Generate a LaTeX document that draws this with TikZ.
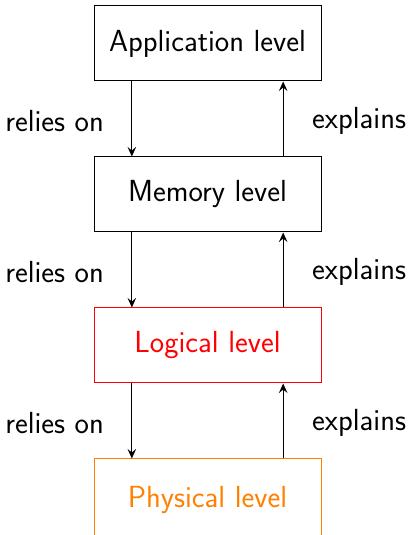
\documentclass[tikz,border=0pt]{standalone}
\usepackage{fontspec}
\usetikzlibrary{arrows.meta}
\begin{document}
\begin{tikzpicture}[x=1pt,y=1pt,
  font=\sffamily\fontsize{30.5}{36}\selectfont,
  level/.style={draw, line width=1pt, minimum width=227pt, minimum height=75pt, inner sep=0pt},
  link/.style={line width=1pt, -{Stealth[length=9.5pt,width=8.5pt,inset=3.5pt]}},
  lbl/.style={inner sep=0pt}]
\useasboundingbox (0,0) rectangle (409,535);
% the four levels, top to bottom
\node[level] (app) at (207.5,491.5) {Application level};
\node[level] (mem) at (207.5,340.5) {Memory level};
\node[level, draw=red, text=red] (log) at (207.5,189.5) {Logical level};
% the lowest box runs past the lower edge of the page
\node[level, draw=orange, text=orange, minimum height=80pt, text depth=5pt] (phy) at (207.5,36) {Physical level};
% downward dependencies
\draw[link] ([xshift=-75.67pt]app.south) -- ([xshift=-75.67pt]mem.north);
\draw[link] ([xshift=-75.67pt]mem.south) -- ([xshift=-75.67pt]log.north);
\draw[link] ([xshift=-75.67pt]log.south) -- ([xshift=-75.67pt]phy.north);
% upward explanations
\draw[link] ([xshift=75.67pt]mem.north) -- ([xshift=75.67pt]app.south);
\draw[link] ([xshift=75.67pt]log.north) -- ([xshift=75.67pt]mem.south);
\draw[link] ([xshift=75.67pt]phy.north) -- ([xshift=75.67pt]log.south);
% labels
\node[lbl, anchor=east] (r1) at (104,414) {relies on};
\node[lbl, anchor=east] (r2) at (104,263) {relies on};
\node[lbl, anchor=east] (r3) at (104,112) {relies on};
\node[lbl, anchor=west] (e1) at (312,414) {explains};
\node[lbl, anchor=west] (e2) at (312,263) {explains};
\node[lbl, anchor=west] (e3) at (312,112) {explains};
\end{tikzpicture}
\end{document}
